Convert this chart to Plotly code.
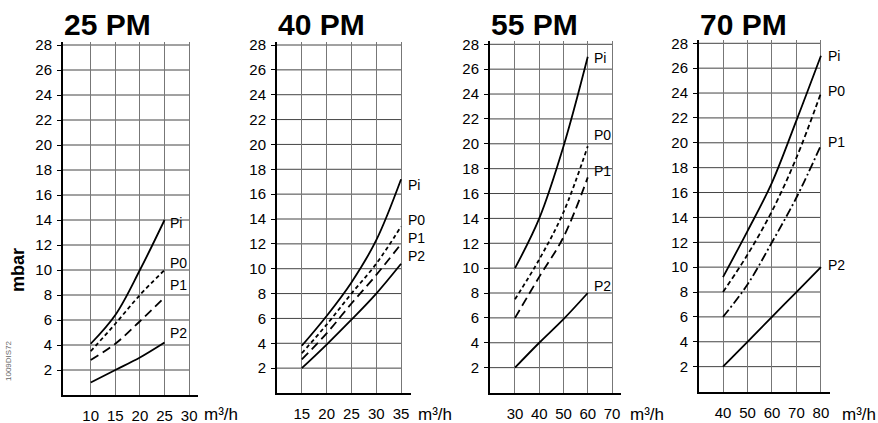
import plotly.graph_objects as go

W, H = 878, 423

# ---------------- data ----------------
titles = ["25 PM", "40 PM", "55 PM", "70 PM"]
curve_names = ["Pi", "P0", "P1", "P2"]
y_ticks = [2, 4, 6, 8, 10, 12, 14, 16, 18, 20, 22, 24, 26, 28]

xt_25 = [10, 15, 20, 25, 30]
x_25 = [10, 15, 20, 25]
pi_25 = [4.1, 6.4, 10.0, 14.0]
p0_25 = [3.5, 5.7, 8.0, 10.0]
p1_25 = [2.8, 4.1, 5.9, 7.8]
p2_25 = [1.0, 2.0, 3.0, 4.2]

xt_40 = [15, 20, 25, 30, 35]
x_40 = [15, 20, 25, 30, 35]
pi_40 = [3.8, 6.2, 8.9, 12.3, 17.2]
p0_40 = [3.2, 5.5, 8.0, 10.4, 13.4]
p1_40 = [2.7, 4.8, 7.2, 9.5, 12.0]
p2_40 = [2.0, 3.9, 5.9, 8.0, 10.4]

xt_55 = [30, 40, 50, 60, 70]
x_55 = [30, 40, 50, 60]
pi_55 = [10.0, 14.0, 19.8, 27.0]
p0_55 = [7.5, 10.7, 14.5, 19.8]
p1_55 = [6.0, 9.3, 12.5, 17.3]
p2_55 = [2.0, 4.0, 5.9, 8.0]

xt_70 = [40, 50, 60, 70, 80]
x_70 = [40, 50, 60, 70, 80]
pi_70 = [9.2, 12.9, 16.8, 21.8, 27.0]
p0_70 = [8.0, 11.0, 14.5, 18.8, 24.0]
p1_70 = [6.0, 8.6, 12.0, 15.6, 19.8]
p2_70 = [2.0, 4.0, 6.0, 8.0, 10.0]

unit_label = "m³/h"
y_label = "mbar"
code_label = "1009DIS72"

# ---------------- layout geometry (pixels) / styles ----------------
LONG = "9px,5px"
DASHDOT = "9px,3px,2px,3px"
SHORT = "4px,3px"
panels = [
    dict(x=x_25, s=[pi_25, p0_25, p1_25, p2_25], xt=xt_25,
         px=(63, 198), pb=395, p28=45, xr=(4.37, 31.8),
         lab_x=25.8, lab_y=[13.8, 10.6, 8.8, 5.0], unit_px=202,
         dash=["solid", SHORT, LONG, "solid"]),
    dict(x=x_40, s=[pi_40, p0_40, p1_40, p2_40], xt=xt_40,
         px=(277, 411), pb=393, p28=45, xr=(10.0, 37.0),
         lab_x=36.0, lab_y=[16.7, 13.9, 12.5, 11.0], unit_px=416,
         dash=["solid", SHORT, LONG, "solid"]),
    dict(x=x_55, s=[pi_55, p0_55, p1_55, p2_55], xt=xt_55,
         px=(490, 621), pb=392.5, p28=44.3, xr=(19.7, 73.7),
         lab_x=61.6, lab_y=[26.9, 20.7, 17.8, 8.6], unit_px=628,
         dash=["solid", SHORT, LONG, "solid"]),
    dict(x=x_70, s=[pi_70, p0_70, p1_70, p2_70], xt=xt_70,
         px=(699, 830), pb=391.5, p28=43.3, xr=(30.2, 83.7),
         lab_x=82.0, lab_y=[27.0, 24.2, 20.1, 10.2], unit_px=840,
         dash=["solid", "5px,3px", DASHDOT, "solid"]),
]
FONT = "Liberation Sans, Arial, sans-serif"

fig = go.Figure()
shapes = []
annotations = []
layout_axes = {}

for i, p in enumerate(panels):
    n = i + 1
    xa = "x" if n == 1 else f"x{n}"
    ya = "y" if n == 1 else f"y{n}"
    top = p["p28"] - 3.3
    y_top_val = 28 * (p["pb"] - top) / (p["pb"] - p["p28"])
    for k, ser in enumerate(p["s"]):
        fig.add_trace(go.Scatter(
            x=p["x"], y=ser, mode="lines", xaxis=xa, yaxis=ya,
            line=dict(color="black", width=1.8, dash=p["dash"][k], shape="spline", smoothing=1.0),
            showlegend=False, hoverinfo="skip"))
        annotations.append(dict(
            x=p["lab_x"], y=p["lab_y"][k], xref=xa, yref=ya, text=curve_names[k],
            showarrow=False, xanchor="left", yanchor="middle",
            font=dict(size=14, color="black", family=FONT)))
    for yv in y_ticks:
        shapes.append(dict(type="line", xref=xa, yref=ya, x0=p["xr"][0], x1=p["xt"][-1],
                           y0=yv, y1=yv, line=dict(color="#444", width=1), layer="below"))
    layout_axes["xaxis" if n == 1 else f"xaxis{n}"] = dict(
        domain=[p["px"][0] / W, p["px"][1] / W], range=list(p["xr"]), anchor=ya,
        tickvals=p["xt"], ticks="", showgrid=True, gridcolor="#777", gridwidth=1,
        showline=True, linecolor="black", linewidth=2, zeroline=False,
        tickfont=dict(size=15, color="black", family=FONT), ticklabelstandoff=6,
        automargin=False, fixedrange=True)
    layout_axes["yaxis" if n == 1 else f"yaxis{n}"] = dict(
        domain=[1 - p["pb"] / H, 1 - top / H], range=[0, y_top_val], anchor=xa,
        tickvals=y_ticks, ticks="outside", ticklen=4, tickcolor="black", tickwidth=1,
        showgrid=False, showline=True, linecolor="black", linewidth=2, zeroline=False,
        tickfont=dict(size=15, color="black", family=FONT), ticklabelstandoff=2,
        automargin=False, fixedrange=True)
    annotations.append(dict(
        x=(p["px"][0] - 1) / W, y=1 - 25 / H, xref="paper", yref="paper",
        text=f"<b>{titles[i]}</b>",
        showarrow=False, xanchor="left", yanchor="middle",
        font=dict(size=30, color="black", family=FONT)))
    annotations.append(dict(
        x=p["unit_px"] / W, y=1 - 414 / H, xref="paper", yref="paper", text=unit_label,
        showarrow=False, xanchor="left", yanchor="middle",
        font=dict(size=17, color="black", family=FONT)))

annotations.append(dict(
    x=18 / W, y=1 - 270 / H, xref="paper", yref="paper", text=f"<b>{y_label}</b>",
    showarrow=False, textangle=-90, xanchor="center", yanchor="middle",
    font=dict(size=18, color="black", family=FONT)))
annotations.append(dict(
    x=8 / W, y=1 - 361 / H, xref="paper", yref="paper", text=code_label,
    showarrow=False, textangle=-90, xanchor="center", yanchor="middle",
    font=dict(size=8, color="#666", family=FONT)))

fig.update_layout(
    width=W, height=H, margin=dict(l=0, r=0, t=0, b=0, pad=0, autoexpand=False),
    paper_bgcolor="white", plot_bgcolor="white",
    shapes=shapes, annotations=annotations, **layout_axes)

fig.write_html("out.html", config={"displayModeBar": False},
               post_script="document.body.style.margin='0';document.body.style.overflow='hidden';")
